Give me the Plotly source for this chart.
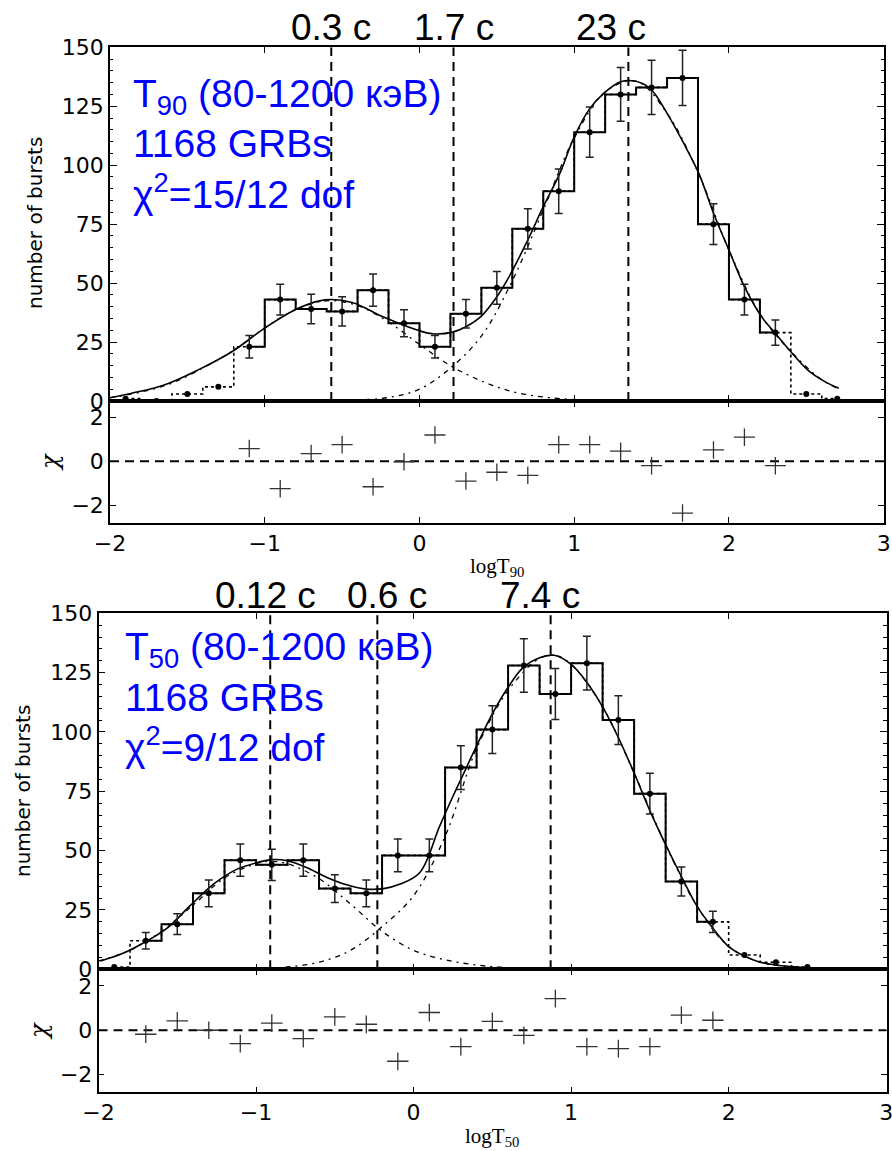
import plotly.graph_objects as go

# ---------------- data ----------------
# T90 panel
t90_centers = [-1.9, -1.7, -1.5, -1.3, -1.1, -0.9, -0.7, -0.5, -0.3, -0.1, 0.1, 0.3,
               0.5, 0.7, 0.9, 1.1, 1.3, 1.5, 1.7, 1.9, 2.1, 2.3, 2.5, 2.7]
t90_counts = [1, 0, 3, 6, 23, 43, 39, 38, 47, 33, 23, 37,
              48, 73, 89, 114, 130, 133, 137, 75, 43, 29, 3, 1]
t90_fit_lo, t90_fit_hi = -1.1, 2.3

t90_model_x = [-2.0, -1.86, -1.65, -1.43, -1.21, -1.0, -0.78, -0.61, -0.435, -0.24, -0.02,
               0.084, 0.214, 0.30, 0.40, 0.50, 0.59, 0.70, 0.80, 0.907, 1.0, 1.10, 1.20,
               1.30, 1.39, 1.49, 1.60, 1.71, 1.81, 1.90, 2.0, 2.10, 2.21, 2.30, 2.40,
               2.51, 2.62, 2.71]
t90_model_y = [1.4, 3.3, 6.8, 13.2, 21.0, 30.9, 39.4, 42.9, 41.8, 35.8, 30.2,
               28.5, 29.2, 31.5, 36.0, 44.2, 54.0, 68.3, 82.4, 96.5, 112.0, 124.0, 131.0,
               135.4, 135.7, 132.6, 122.0, 109.0, 95.8, 79.6, 64.0, 48.5, 35.8, 28.7, 20.9,
               13.1, 8.2, 5.4]
t90_short_x = [-2.0, -1.8, -1.6, -1.4, -1.2, -1.0, -0.8, -0.6, -0.4, -0.2, 0.0, 0.2, 0.4,
               0.6, 0.8, 1.0, 1.2, 1.4, 2.0, 2.7]
t90_short_y = [1.4, 3.8, 7.6, 14.0, 21.5, 31.0, 38.8, 42.5, 40.5, 33.5, 24.0, 15.0, 8.5,
               4.0, 1.7, 0.6, 0.2, 0.0, 0.0, 0.0]
t90_long_x = [-2.0, -1.0, -0.6, -0.4, -0.2, 0.0, 0.2, 0.4, 0.6, 0.8, 1.0, 1.2, 1.4, 1.6,
              1.8, 2.0, 2.2, 2.4, 2.6, 2.7]
t90_long_y = [0.0, 0.0, 0.1, 0.4, 1.5, 5.0, 14.0, 27.5, 51.0, 81.0, 111.5, 131.0, 135.7,
              122.0, 97.0, 64.0, 37.0, 21.0, 9.0, 5.4]
t90_chi_x = [-1.1, -0.9, -0.7, -0.5, -0.3, -0.1, 0.1, 0.3, 0.5, 0.7, 0.9, 1.1, 1.3, 1.5,
             1.7, 1.9, 2.1, 2.3]
t90_chi = [0.58, -1.25, 0.35, 0.76, -1.16, -0.02, 1.2, -0.9, -0.5, -0.64, 0.76, 0.76,
           0.46, -0.2, -2.36, 0.52, 1.1, -0.2]
t90_peaks = [-0.57, 0.22, 1.35]
t90_peak_labels = ["0.3 c", "1.7 c", "23 c"]
t90_label_x = [-0.57, 0.22, 1.24]

# T50 panel
t50_centers = [-1.9, -1.7, -1.5, -1.3, -1.1, -0.9, -0.7, -0.5, -0.3, -0.1, 0.1, 0.3,
               0.5, 0.7, 0.9, 1.1, 1.3, 1.5, 1.7, 1.9, 2.1, 2.3, 2.5]
t50_counts = [1, 12, 19, 32, 46, 44, 46, 34, 32, 48, 48, 85,
              101, 128, 116, 129, 105, 74, 37, 20, 6, 3, 1]
t50_fit_lo, t50_fit_hi = -1.7, 1.9

t50_model_x = [-1.987, -1.86, -1.71, -1.56, -1.42, -1.27, -1.12, -0.99, -0.90, -0.80,
               -0.68, -0.55, -0.42, -0.30, -0.19, -0.085, 0.04, 0.165, 0.25, 0.334,
               0.419, 0.503, 0.598, 0.693, 0.80, 0.894, 1.0, 1.095, 1.20, 1.296, 1.40,
               1.497, 1.60, 1.70, 1.80, 1.90, 2.0, 2.10, 2.19, 2.30, 2.49, 2.71]
t50_model_y = [3.5, 6.3, 11.3, 17.6, 26.7, 35.9, 42.2, 45.0, 46.2, 45.7,
               42.9, 38.7, 35.5, 33.8, 34.0, 35.9, 40.8, 60.2, 72.9, 84.8,
               96.8, 108.0, 118.6, 127.0, 131.3, 132.3, 128.5, 121.4, 110.6, 98.2, 82.7,
               67.3, 52.5, 39.1, 26.5, 17.3, 9.6, 5.6, 3.2, 1.8, 0.7, 0.1]
t50_short_x = [-2.0, -1.8, -1.6, -1.4, -1.2, -1.0, -0.9, -0.8, -0.6, -0.4, -0.2, 0.0,
               0.2, 0.4, 0.6, 0.8, 1.0, 2.0, 2.7]
t50_short_y = [3.5, 8.0, 16.0, 27.0, 38.5, 44.5, 45.5, 44.5, 38.2, 27.5, 16.0, 8.0,
               4.0, 1.8, 0.7, 0.3, 0.0, 0.0, 0.0]
t50_long_x = [-2.0, -1.2, -1.0, -0.8, -0.6, -0.4, -0.2, 0.0, 0.2, 0.4, 0.6, 0.8, 0.9,
              1.0, 1.2, 1.4, 1.6, 1.8, 2.0, 2.2, 2.5, 2.7]
t50_long_y = [0.0, 0.0, 0.3, 1.0, 3.0, 8.0, 18.0, 31.0, 56.0, 93.0, 117.5, 131.0, 132.3,
              128.5, 110.6, 82.7, 52.5, 26.5, 9.6, 3.0, 0.6, 0.1]
t50_chi_x = [-1.7, -1.5, -1.3, -1.1, -0.9, -0.7, -0.5, -0.3, -0.1, 0.1, 0.3, 0.5, 0.7,
             0.9, 1.1, 1.3, 1.5, 1.7, 1.9]
t50_chi = [-0.18, 0.42, 0.0, -0.6, 0.32, -0.38, 0.6, 0.27, -1.4, 0.8, -0.74, 0.4, -0.23,
           1.43, -0.74, -0.83, -0.74, 0.68, 0.45]
t50_peaks = [-0.91, -0.23, 0.87]
t50_peak_labels = ["0.12 c", "0.6 c", "7.4 c"]
t50_label_x = [-0.94, -0.17, 0.80]

x_ticks = [-2, -1, 0, 1, 2, 3]
x_ticktext = ["\u22122", "\u22121", "0", "1", "2", "3"]
y_ticks = [0, 25, 50, 75, 100, 125, 150]
chi_ticks = [-2, 0, 2]
chi_ticktext = ["\u22122", "0", "2"]

# ---------------- layout helpers ----------------
W, H = 892, 1151
def px(v):
    return v / W
def py(v):
    return 1 - v / H

BLACK = "#000000"
TICKFONT = dict(family="DejaVu Sans", size=22, color=BLACK)
X_RANGE = [-2, 3.002]

fig = go.Figure()

def add_panel(n_main, n_chi, centers, counts, lo, hi, mx, my, sx, sy, lx, ly,
              chix, chiy, peaks):
    xa = "x" if n_main == 1 else f"x{n_main}"
    ya = "y" if n_main == 1 else f"y{n_main}"
    xc, yc = f"x{n_chi}", f"y{n_chi}"
    inside = [lo - 1e-9 <= c <= hi + 1e-9 for c in centers]
    fit_x = [c for c, k in zip(centers, inside) if k]
    fit_y = [n for n, k in zip(counts, inside) if k]
    out_x = [c for c, k in zip(centers, inside) if not k]
    out_y = [n for n, k in zip(counts, inside) if not k]
    # dotted full histogram
    fig.add_trace(go.Scatter(x=centers, y=counts, mode="lines", line_shape="hvh",
                             line=dict(color=BLACK, width=1.6, dash="dot"),
                             xaxis=xa, yaxis=ya, hoverinfo="skip"))
    # solid fitted histogram
    fig.add_trace(go.Scatter(x=fit_x, y=fit_y, mode="lines", line_shape="hvh",
                             line=dict(color=BLACK, width=2),
                             xaxis=xa, yaxis=ya, hoverinfo="skip"))
    # component curves
    for cx, cy in ((sx, sy), (lx, ly)):
        fig.add_trace(go.Scatter(x=cx, y=cy, mode="lines", line_shape="spline",
                                 line=dict(color=BLACK, width=1.3, dash="5px,5px,2px,5px"),
                                 xaxis=xa, yaxis=ya, hoverinfo="skip"))
    # total model
    fig.add_trace(go.Scatter(x=mx, y=my, mode="lines", line_shape="spline",
                             line=dict(color=BLACK, width=1.6),
                             xaxis=xa, yaxis=ya, hoverinfo="skip"))
    # data points with Poisson errors
    fig.add_trace(go.Scatter(x=fit_x, y=fit_y, mode="markers",
                             marker=dict(color=BLACK, size=6),
                             error_y=dict(type="sqrt", color="#222222", thickness=1.5, width=4),
                             xaxis=xa, yaxis=ya, hoverinfo="skip"))
    fig.add_trace(go.Scatter(x=out_x, y=out_y, mode="markers",
                             marker=dict(color=BLACK, size=6),
                             xaxis=xa, yaxis=ya, hoverinfo="skip"))
    # peak lines
    for p in peaks:
        fig.add_trace(go.Scatter(x=[p, p], y=[y_ticks[0], y_ticks[-1]], mode="lines",
                                 line=dict(color=BLACK, width=2, dash="9px,6px"),
                                 xaxis=xa, yaxis=ya, hoverinfo="skip"))
    # chi panel zero line and crosses
    fig.add_trace(go.Scatter(x=[x_ticks[0], x_ticks[-1]], y=[0, 0], mode="lines",
                             line=dict(color=BLACK, width=2, dash="9px,6px"),
                             xaxis=xc, yaxis=yc, hoverinfo="skip"))
    fig.add_trace(go.Scatter(x=chix, y=chiy, mode="markers",
                             marker=dict(color="#333333", size=1),
                             error_x=dict(type="constant", value=0.068, width=0,
                                          color="#333333", thickness=1.3),
                             error_y=dict(type="constant", value=0.4, width=0,
                                          color="#333333", thickness=1.3),
                             xaxis=xc, yaxis=yc, hoverinfo="skip"))

add_panel(1, 2, t90_centers, t90_counts, t90_fit_lo, t90_fit_hi,
          t90_model_x, t90_model_y, t90_short_x, t90_short_y, t90_long_x, t90_long_y,
          t90_chi_x, t90_chi, t90_peaks)
add_panel(3, 4, t50_centers, t50_counts, t50_fit_lo, t50_fit_hi,
          t50_model_x, t50_model_y, t50_short_x, t50_short_y, t50_long_x, t50_long_y,
          t50_chi_x, t50_chi, t50_peaks)

# ---------------- axes ----------------
common = dict(showline=True, linecolor=BLACK, linewidth=1.5, mirror="ticks",
              showgrid=False, zeroline=False, ticks="inside", tickcolor=BLACK,
              tickwidth=1.3, tickfont=TICKFONT, automargin=False,
              ticklabeloverflow="allow")

top_dom_x = [px(110), px(884)]
bot_dom_x = [px(98.5), px(886.5)]

fig.update_layout(
    template="none",
    width=W, height=H, margin=dict(l=0, r=0, t=0, b=0, pad=0),
    paper_bgcolor="white", plot_bgcolor="white", showlegend=False,
    xaxis=dict(domain=top_dom_x, anchor="y", range=X_RANGE, tickvals=x_ticks,
               showticklabels=False, ticklen=6, **common),
    yaxis=dict(domain=[py(401), py(47.3)], anchor="x", range=[0, 150], tickvals=y_ticks,
               ticklen=7, minor=dict(dtick=5, ticks="inside", ticklen=3.5, tickcolor=BLACK),
               **common),
    xaxis2=dict(domain=top_dom_x, anchor="y2", range=X_RANGE, tickvals=x_ticks,
                ticktext=x_ticktext, ticklen=6, **common),
    yaxis2=dict(domain=[py(522.7), py(401)], anchor="x2", range=[-2.8, 2.75],
                tickvals=chi_ticks, ticktext=chi_ticktext, ticklen=6, **common),
    xaxis3=dict(domain=bot_dom_x, anchor="y3", range=X_RANGE, tickvals=x_ticks,
                showticklabels=False, ticklen=6, **common),
    yaxis3=dict(domain=[py(969.3), py(613.3)], anchor="x3", range=[0, 150], tickvals=y_ticks,
                ticklen=7, minor=dict(dtick=5, ticks="inside", ticklen=3.5, tickcolor=BLACK),
                **common),
    xaxis4=dict(domain=bot_dom_x, anchor="y4", range=X_RANGE, tickvals=x_ticks,
                ticktext=x_ticktext, ticklen=6, **common),
    yaxis4=dict(domain=[py(1092.3), py(969.3)], anchor="x4", range=[-2.8, 2.75],
                tickvals=chi_ticks, ticktext=chi_ticktext, ticklen=6, **common),
)

# ---------------- text ----------------
ann = []
LAB = dict(family="Liberation Sans, Arial, sans-serif", size=37, color=BLACK)
for xv, t in zip(t90_label_x, t90_peak_labels):
    ann.append(dict(x=xv, xref="x", y=py(27.5), yref="paper", text=t, showarrow=False,
                    font=LAB, xanchor="center", yanchor="middle"))
for xv, t in zip(t50_label_x, t50_peak_labels):
    ann.append(dict(x=xv, xref="x3", y=py(596), yref="paper", text=t, showarrow=False,
                    font=LAB, xanchor="center", yanchor="middle"))

BLUE = dict(family="Liberation Sans, Arial, sans-serif", size=39, color="#0000ff")
top_lines = ["T<sub>90</sub> (80-1200 кэВ)", "1168 GRBs", "χ<sup>2</sup>=15/12 dof"]
bot_lines = ["T<sub>50</sub> (80-1200 кэВ)", "1168 GRBs", "χ<sup>2</sup>=9/12 dof"]
for t, yy in zip(top_lines, [96, 143, 191]):
    ann.append(dict(x=px(131), xref="paper", y=py(yy), yref="paper", text=t,
                    showarrow=False, font=BLUE, xanchor="left", yanchor="middle"))
for t, yy in zip(bot_lines, [649, 697, 744]):
    ann.append(dict(x=px(123), xref="paper", y=py(yy), yref="paper", text=t,
                    showarrow=False, font=BLUE, xanchor="left", yanchor="middle"))

YL = dict(family="DejaVu Sans", size=20, color=BLACK)
ann.append(dict(x=px(35), xref="paper", y=py(223), yref="paper", text="number of bursts",
                textangle=-90, showarrow=False, font=YL, xanchor="center", yanchor="middle"))
ann.append(dict(x=px(23), xref="paper", y=py(791), yref="paper", text="number of bursts",
                textangle=-90, showarrow=False, font=YL, xanchor="center", yanchor="middle"))
CHI = dict(family="DejaVu Serif", size=24, color=BLACK, style="italic")
ann.append(dict(x=px(50), xref="paper", y=py(462), yref="paper", text="χ",
                textangle=-90, showarrow=False, font=CHI, xanchor="center", yanchor="middle"))
ann.append(dict(x=px(39), xref="paper", y=py(1031), yref="paper", text="χ",
                textangle=-90, showarrow=False, font=CHI, xanchor="center", yanchor="middle"))
XL = dict(family="Liberation Serif, serif", size=21, color=BLACK)
ann.append(dict(x=px(497), xref="paper", y=py(567), yref="paper", text="logT<sub>90</sub>",
                showarrow=False, font=XL, xanchor="center", yanchor="middle"))
ann.append(dict(x=px(492), xref="paper", y=py(1137), yref="paper", text="logT<sub>50</sub>",
                showarrow=False, font=XL, xanchor="center", yanchor="middle"))
fig.update_layout(annotations=ann)

fig.write_html("out.html", config={"displayModeBar": False},
               post_script="document.body.style.margin='0px';"
                           "document.body.style.overflow='hidden';")
